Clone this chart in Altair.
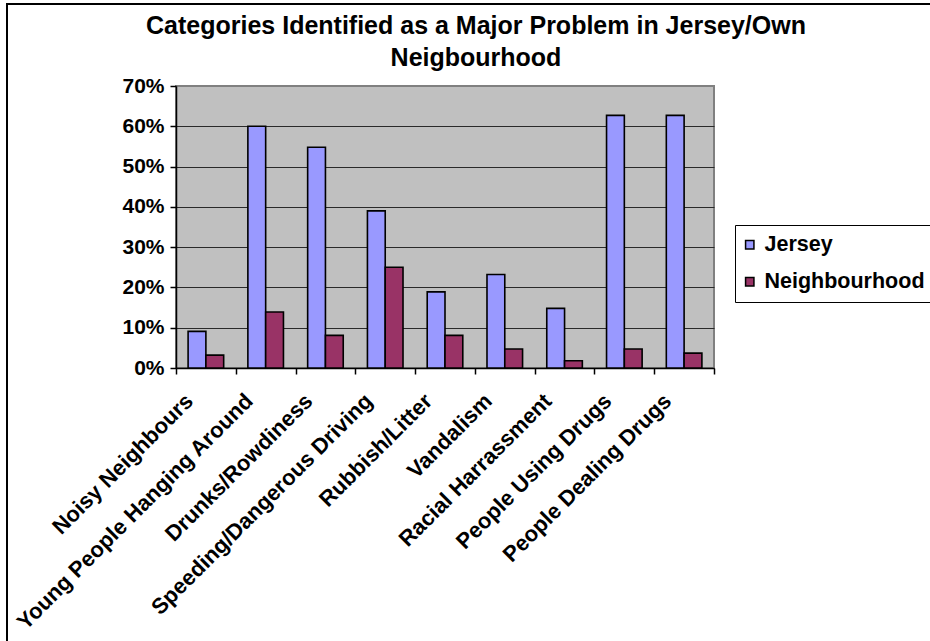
import altair as alt
import pandas as pd

# Survey results: share of respondents naming each category as a major problem
categories = [
    "Noisy Neighbours",
    "Young People Hanging Around",
    "Drunks/Rowdiness",
    "Speeding/Dangerous Driving",
    "Rubbish/Litter",
    "Vandalism",
    "Racial Harrassment",
    "People Using Drugs",
    "People Dealing Drugs",
]
series_names = ["Jersey", "Neighbourhood"]
jersey = [0.091, 0.600, 0.548, 0.390, 0.189, 0.232, 0.148, 0.627, 0.627]
neighbourhood = [0.032, 0.139, 0.081, 0.250, 0.081, 0.047, 0.018, 0.047, 0.037]
y_ticks = [0.0, 0.1, 0.2, 0.3, 0.4, 0.5, 0.6, 0.7]
series_colors = ["#9999FF", "#993366"]
title_lines = ["Categories Identified as a Major Problem in Jersey/Own", "Neigbourhood"]

rows = []
for cat, j, n in zip(categories, jersey, neighbourhood):
    rows.append({"Category": cat, "Series": "Jersey", "Value": j})
    rows.append({"Category": cat, "Series": "Neighbourhood", "Value": n})
df = pd.DataFrame(rows)

FONT = "Liberation Sans"

bars = alt.Chart(df).mark_bar(stroke="black", strokeWidth=1.6).encode(
    x=alt.X(
        "Category:N",
        sort=categories,
        scale=alt.Scale(paddingInner=0, paddingOuter=0),
        axis=alt.Axis(
            title=None,
            labelAngle=-45,
            labelAlign="right",
            labelBaseline="alphabetic",
            labelOffset=-12,
            labelPadding=28,
            labelLimit=0,
            labelFontSize=22,
            labelFontWeight="bold",
            labelColor="black",
            tickBand="extent",
            tickColor="black",
            tickSize=6,
            tickWidth=1.5,
            domainColor="black",
            domainWidth=1.5,
            grid=False,
        ),
    ),
    xOffset=alt.XOffset(
        "Series:N",
        sort=series_names,
        scale=alt.Scale(paddingInner=0, paddingOuter=0.68),
    ),
    y=alt.Y(
        "Value:Q",
        scale=alt.Scale(domain=[0, 0.7], nice=False),
        axis=alt.Axis(
            title=None,
            values=y_ticks,
            format=".0%",
            labelFontSize=21,
            labelFontWeight="bold",
            labelColor="black",
            labelPadding=6,
            tickColor="black",
            tickSize=6,
            tickWidth=1.5,
            domainColor="black",
            domainWidth=1.5,
            grid=True,
            gridColor={"condition": {"test": "datum.value > 0.65", "value": "#808080"}, "value": "#2a2a2a"},
            gridWidth=1.2,
        ),
    ),
    color=alt.Color(
        "Series:N",
        sort=series_names,
        scale=alt.Scale(domain=series_names, range=series_colors),
        legend=alt.Legend(
            title=None,
            orient="none",
            legendX=559,
            legendY=139,
            symbolType="square",
            symbolSize=70,
            symbolOffset=-5,
            symbolStrokeColor="black",
            symbolStrokeWidth=1.5,
            labelFontSize=21.5,
            labelFontWeight="bold",
            labelColor="black",
            labelLimit=0,
            labelOffset=4,
            rowPadding=14,
            padding=9,
            strokeColor="black",
            fillColor="white",
        ),
    ),
)

# Two-line heading, centred over the chart
one = alt.Data(values=[{}])
heading = alt.layer(
    alt.Chart(one).mark_text(
        text=title_lines[0], fontSize=25, fontWeight="bold", font=FONT,
        color="black", align="center", baseline="alphabetic",
    ).encode(x=alt.value(300), y=alt.value(-52)),
    alt.Chart(one).mark_text(
        text=title_lines[1], fontSize=25, fontWeight="bold", font=FONT,
        color="black", align="center", baseline="alphabetic",
    ).encode(x=alt.value(300), y=alt.value(-20)),
)

# Outer frame around the whole figure
frame = alt.Chart(one).mark_rect(
    fill=None, stroke="black", strokeWidth=2
).encode(
    x=alt.value(-169), x2=alt.value(760),
    y=alt.value(-82), y2=alt.value(600),
)

chart = alt.layer(frame, heading, bars).properties(
    width=538,
    height=282,
    autosize=alt.AutoSizeParams(type="none"),
    padding={"left": 176, "top": 86, "right": 216, "bottom": 273},
    background="white",
).configure(
    font=FONT,
).configure_view(
    fill="#C0C0C0",
    stroke="#808080",
    strokeWidth=2,
)

chart.save("out.html", embed_options={"renderer": "svg", "actions": False})
